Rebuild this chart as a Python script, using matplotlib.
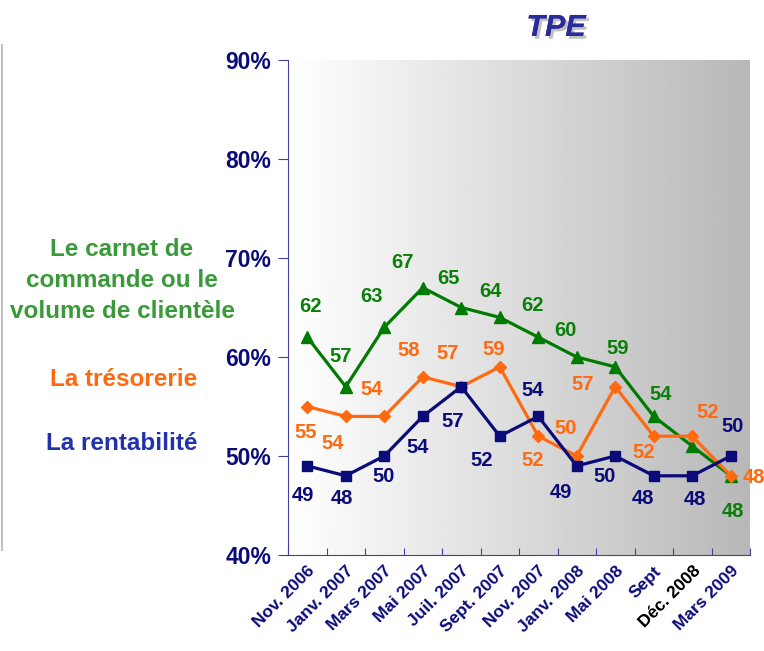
import numpy as np
import matplotlib.pyplot as plt
import matplotlib.patheffects as pe
from matplotlib.lines import Line2D

plt.rcParams['font.family'] = ['Liberation Sans', 'DejaVu Sans']

# Données
mois = ['Nov. 2006', 'Janv. 2007', 'Mars 2007', 'Mai 2007', 'Juil. 2007', 'Sept. 2007',
        'Nov. 2007', 'Janv. 2008', 'Mai 2008', 'Sept', 'Déc. 2008', 'Mars 2009']
carnet = [62, 57, 63, 67, 65, 64, 62, 60, 59, 54, 51, 48]
tresorerie = [55, 54, 54, 58, 57, 59, 52, 50, 57, 52, 52, 48]
rentabilite = [49, 48, 50, 54, 57, 52, 54, 49, 50, 48, 48, 50]
# point 11 du carnet n'a pas d'etiquette
carnet_lab = [True] * 10 + [False, True]
titre_carnet = ['Le carnet de', 'commande ou le', 'volume de clientèle']

# decalages des etiquettes (pixels)
off_carnet = [(3, 31), (-5, 30), (-13, 31), (-20, 25), (-13, 29), (-9, 26),
              (-6, 32), (-11, 26), (2, 18), (7, 22), (0, 0), (2, -36)]
off_treso = [(-2, -26), (-13, -27), (-13, 27), (-14, 26), (-14, 33), (-6, 17),
             (-6, -24), (-11, 28), (-33, 2), (-10, -16), (15, 24), (23, -2)]
off_renta = [(-4, -30), (-4, -23), (-1, -21), (-5, -31), (-9, -35), (-18, -24),
             (-6, 26), (-16, -27), (-11, -21), (-11, -23), (3, -24), (2, 29)]

navy = '#0a0a78'
vert = '#0a800a'
orange = '#ff6a10'

fig = plt.figure(figsize=(7.64, 6.51), dpi=100)
ax = fig.add_axes([288 / 764, 1 - 555 / 651, 462 / 764, 495 / 651])

x = np.arange(len(mois))
ax.set_xlim(-0.5, len(mois) - 0.5)
ax.set_ylim(40, 90)

# fond degrade
grad = np.linspace(1.0, 0.72, 256)
grad = np.vstack([grad, grad])
ax.imshow(grad, cmap='gray', vmin=0, vmax=1, aspect='auto',
          extent=[-0.5, len(mois) - 0.5, 40, 90], zorder=0)

ax.plot(x, carnet, color='#007a00', lw=2.3, marker='^', ms=8.5, zorder=3)
ax.plot(x, tresorerie, color=orange, lw=2.3, marker='D', ms=6, zorder=3)
ax.plot(x, rentabilite, color=navy, lw=2.3, marker='s', ms=7.5, zorder=4)

lab_kw = dict(textcoords='offset pixels', ha='center', va='center',
              fontsize=14.5, fontweight='bold', zorder=5, annotation_clip=False)
for i in range(len(mois)):
    if carnet_lab[i]:
        ax.annotate(str(carnet[i]), (x[i], carnet[i]), xytext=off_carnet[i], color=vert, **lab_kw)
    ax.annotate(str(tresorerie[i]), (x[i], tresorerie[i]), xytext=off_treso[i], color=orange, **lab_kw)
    ax.annotate(str(rentabilite[i]), (x[i], rentabilite[i]), xytext=off_renta[i], color=navy, **lab_kw)

# axes
for s in ['top', 'right']:
    ax.spines[s].set_visible(False)
ax.spines['left'].set_color('#4040a0')
ax.spines['bottom'].set_color('#4040a0')
ax.set_yticks([40, 50, 60, 70, 80, 90])
ax.set_yticklabels(['40%', '50%', '60%', '70%', '80%', '90%'],
                   fontsize=16.5, fontweight='bold', color=navy)
ax.tick_params(axis='y', length=7, color='#4040a0', pad=5)
ax.set_xticks(np.arange(len(mois) + 1) - 0.5)
ax.set_xticklabels([])
ax.tick_params(axis='x', length=5, color='#4040a0', direction='in')
ax.set_xticks(x, minor=True)
ax.set_xticklabels(mois, minor=True, rotation=45, ha='right', rotation_mode='anchor',
                   fontsize=12.5, fontweight='bold', color=navy)
ax.tick_params(axis='x', which='minor', length=0, pad=6)
dec = ax.get_xticklabels(minor=True)[10]
dec.set_color('black')
dec.set_path_effects([pe.withStroke(linewidth=2, foreground='white')])

# titre
fig.text(556 / 764, 1 - 28 / 651, 'TPE', ha='center', va='center', fontsize=22,
         fontweight='bold', style='italic', color='#2a2a9a',
         path_effects=[pe.withSimplePatchShadow(offset=(2, -2), shadow_rgbFace='#999999', alpha=0.6),
                       pe.Normal()])

# legende a gauche (une ligne par texte)
for k, ligne in enumerate(titre_carnet):
    fig.text(122 / 764, 1 - (249 + 31 * k) / 651, ligne, ha='center', va='center',
             fontsize=17.5, fontweight='bold', color='#3a9a3a')
fig.text(124 / 764, 1 - 379 / 651, 'La trésorerie', ha='center', va='center',
         fontsize=17.5, fontweight='bold', color='#ff6a10')
fig.text(122 / 764, 1 - 443 / 651, 'La rentabilité', ha='center', va='center',
         fontsize=17.5, fontweight='bold', color='#2233aa')

# trait gris a gauche
fig.add_artist(Line2D([1.5 / 764, 1.5 / 764], [1 - 45 / 651, 1 - 550 / 651],
                      color='#c0c0c0', lw=1.5))

fig.savefig('out.png', dpi=100)
